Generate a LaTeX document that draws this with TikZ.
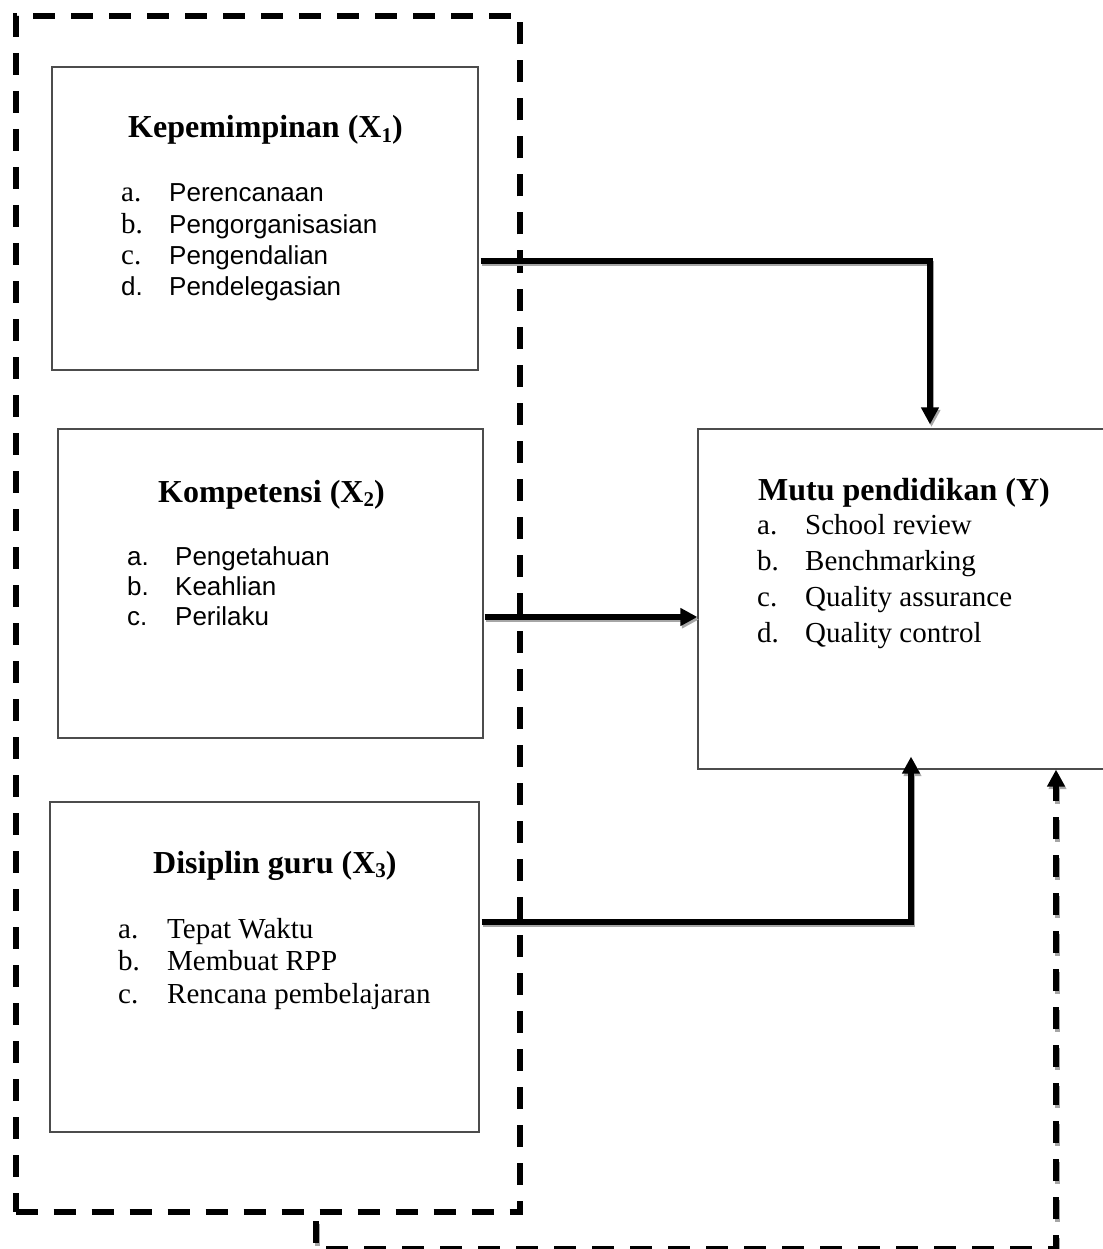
\documentclass[tikz,border=0pt]{standalone}
\usepackage{fontspec}
\setmainfont{Liberation Serif}
\newfontfamily\arialf{Liberation Sans}
\usetikzlibrary{arrows.meta}
\newcommand\subx[1]{\raisebox{-0.14em}{\fontsize{21}{21}\selectfont #1}}
\newcommand\tms{\rmfamily\fontsize{29}{30}\selectfont}
\newcommand\ari{\arialf\fontsize{26}{30}\selectfont}
\begin{document}
\begin{tikzpicture}[x=1pt,y=-1pt,
 box/.style={draw=black!70, line width=1.2pt, inner sep=0pt},
 frame/.style={draw=black, line width=6pt, dash pattern=on 22pt off 16pt, inner sep=0pt},
 conn/.style={draw=black, line width=5.5pt, -{Triangle[length=17pt,width=17pt]}},
 shad/.style={draw=black!35, line width=5.5pt, -{Triangle[length=17pt,width=17pt]}, transform canvas={xshift=1.5pt,yshift=-2.5pt}},
 dconn/.style={conn, dash pattern=on 22pt off 16pt},
 dshad/.style={shad, dash pattern=on 22pt off 16pt},
 title/.style={anchor=base west, inner sep=0pt, font=\fontsize{32}{36}\selectfont\bfseries},
 list/.style={anchor=base west, inner sep=0pt}]
\useasboundingbox (0,0) rectangle (1102,1249);

% boxes
\node[frame, minimum width=504.5pt, minimum height=1196pt] (grp) at (267.75,614) {};
\node[box, minimum width=426pt, minimum height=303pt] (x1) at (265,218.5) {};
\node[box, minimum width=425pt, minimum height=309pt] (x2) at (270.5,583.5) {};
\node[box, minimum width=429pt, minimum height=330pt] (x3) at (264.5,967) {};
\node[box, minimum width=410pt, minimum height=340pt] (y) at (903,599) {};

% texts
\node[title] (t1) at (128,138) {Kepemimpinan (X\subx{1})};
\node[list, font={\fontsize{26}{31.3}\selectfont}] (l1) at (121,202) {%
\begin{tabular}[t]{@{}l@{}l@{}}
\makebox[48pt][l]{\tms a.} & \ari Perencanaan\\
\makebox[48pt][l]{\tms b.} & \ari Pengorganisasian\\
\makebox[48pt][l]{\tms c.} & \ari Pengendalian\\
\makebox[48pt][l]{\ari d.} & \ari Pendelegasian
\end{tabular}};

\node[title] (t2) at (158,502) {Kompetensi (X\subx{2})};
\node[list, font={\fontsize{26}{30}\selectfont}] (l2) at (127,565) {%
\begin{tabular}[t]{@{}l@{}l@{}}
\makebox[48pt][l]{\ari a.} & \ari Pengetahuan\\
\makebox[48pt][l]{\ari b.} & \ari Keahlian\\
\makebox[48pt][l]{\ari c.} & \ari Perilaku
\end{tabular}};

\node[title] (t3) at (153,873) {Disiplin guru (X\subx{3})};
\node[list, font={\fontsize{29}{32.5}\selectfont}] (l3) at (118,938) {%
\begin{tabular}[t]{@{}l@{}l@{}}
\makebox[49pt][l]{\tms a.} & \tms Tepat Waktu\\
\makebox[49pt][l]{\tms b.} & \tms Membuat RPP\\
\makebox[49pt][l]{\tms c.} & \tms Rencana pembelajaran
\end{tabular}};

\node[title] (ty) at (758,500) {Mutu pendidikan (Y)};
\node[list, font={\fontsize{29}{36}\selectfont}] (ly) at (757,534) {%
\begin{tabular}[t]{@{}l@{}l@{}}
\makebox[48pt][l]{\tms a.} & \tms School review\\
\makebox[48pt][l]{\tms b.} & \tms Benchmarking\\
\makebox[48pt][l]{\tms c.} & \tms Quality assurance\\
\makebox[48pt][l]{\tms d.} & \tms Quality control
\end{tabular}};

% connector end points
\coordinate (a1s) at ([xshift=2pt,yshift=-42.5pt]x1.east);
\coordinate (a1e) at ([xshift=27pt,yshift=4pt]y.north);
\coordinate (a2s) at ([xshift=1pt,yshift=-33.5pt]x2.east);
\coordinate (a3s) at ([xshift=2pt,yshift=45pt]x3.east);
\coordinate (a3e) at ([xshift=8pt,yshift=13pt]y.south);
\coordinate (a4s) at ([xshift=48.25pt,yshift=-6pt]grp.south);
\coordinate (a4e) at ([xshift=153pt]y.south);

% shadows
\draw[shad] (a1s) -| (a1e);
\draw[shad] (a2s) -- (y.west |- a2s);
\draw[shad] (a3s) -| (a3e);
\draw[dshad] (a4s) -- ++(0,28) -| (a4e);
% connectors
\draw[conn] (a1s) -| (a1e);
\draw[conn] (a2s) -- (y.west |- a2s);
\draw[conn] (a3s) -| (a3e);
\draw[dconn] (a4s) -- ++(0,28) -| (a4e);
\end{tikzpicture}
\end{document}
